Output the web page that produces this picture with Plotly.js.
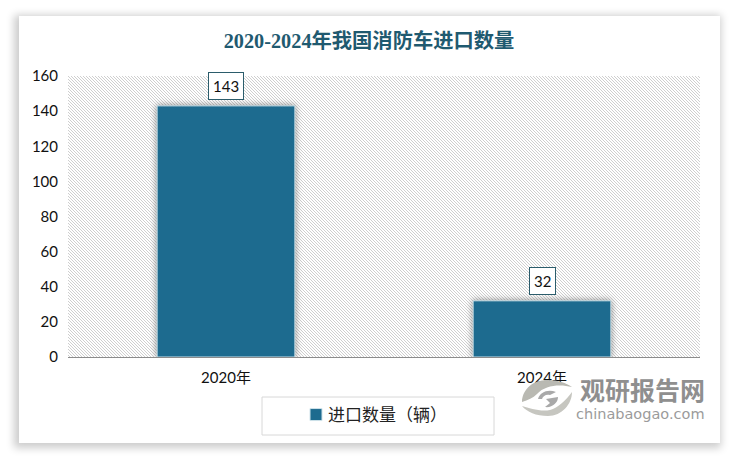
<!DOCTYPE html>
<html><head><meta charset="utf-8">
<script src="https://cdn.plot.ly/plotly-3.0.1.min.js"></script>
<style>
html,body{margin:0;padding:0;background:#fff;width:738px;height:458px;overflow:hidden}
#card{position:absolute;left:19px;top:16px;width:701px;height:427px;background:#fff;box-shadow:-2px 2px 8px 3px rgba(0,0,0,.2)}
#hatch{position:absolute;left:68px;top:76px;width:632px;height:281px;background-color:#fff;image-rendering:pixelated;
 background-image:url("data:image/svg+xml,%3Csvg xmlns='http://www.w3.org/2000/svg' width='3' height='3' shape-rendering='crispEdges'%3E%3Crect x='0' y='0' width='1' height='1' fill='%23cfcfcf'/%3E%3Crect x='1' y='1' width='1' height='1' fill='%23cfcfcf'/%3E%3Crect x='2' y='2' width='1' height='1' fill='%23cfcfcf'/%3E%3C/svg%3E");background-size:3px 3px}
#chart{position:absolute;left:0;top:0;width:738px;height:458px}
.barlayer .point path{filter:drop-shadow(0 0 3px rgba(60,60,60,.6))}
.legend .legendsymbols{transform:translateX(8px)}
</style></head><body>
<div id="card"></div><div id="hatch"></div><div id="chart"></div>
<script>
const categories=['2020年','2024年'];
const values=[143,32];
const seriesName='进口数量（辆）';
const chartTitle='2020-2024年我国消防车进口数量';
const yTicks=[0,20,40,60,80,100,120,140,160];
const cjk='"Noto Sans CJK SC"';
const font='Lato,'+cjk+',sans-serif';
const px=v=>(v-68)/632, py=v=>(357-v)/281;
const annotations=values.map((v,i)=>({x:categories[i],y:v,yref:'y',xref:'x',text:String(v),showarrow:false,yanchor:'bottom',yshift:6,
  font:{family:font,size:15,color:'#111'},bgcolor:'#fff',bordercolor:'#2b5c6b',borderwidth:1,borderpad:4}));
annotations.push(
 {xref:'paper',yref:'paper',x:px(642),y:py(389),xanchor:'center',yanchor:'middle',text:'<b>观研报告网</b>',showarrow:false,font:{family:cjk,size:25,color:'#8f8f8f'}},
 {xref:'paper',yref:'paper',x:px(640.5),y:py(414),xanchor:'center',yanchor:'middle',text:'chinabaogao.com',showarrow:false,font:{family:'"DejaVu Sans"',size:14.5,color:'#9b9b9b'}}
);
Plotly.newPlot('chart',[{type:'bar',x:categories,y:values,name:seriesName,width:0.436,
  marker:{color:'#1d6b8f',line:{color:'#cfe3ea',width:1}},cliponaxis:false,hoverinfo:'skip'}],{
  width:738,height:458,margin:{l:68,r:38,t:76,b:101,pad:0},
  paper_bgcolor:'rgba(0,0,0,0)',plot_bgcolor:'rgba(0,0,0,0)',
  title:{text:chartTitle,x:0.5,xref:'container',xanchor:'center',y:0.911,yanchor:'middle',
    font:{family:'"Liberation Serif",'+cjk+',serif',size:20.3,color:'#1f5a70',weight:'bold'}},
  xaxis:{type:'category',showgrid:false,showline:true,linecolor:'#8c8c8c',linewidth:1,ticks:'',ticklen:0,ticklabelstandoff:7,
    tickfont:{family:font,size:15,color:'#111'},automargin:false},
  yaxis:{range:[0,160],tickvals:yTicks,showgrid:false,zeroline:false,showline:false,ticks:'',ticklabelstandoff:9,
    tickfont:{family:font,size:15,color:'#111'},automargin:false},
  showlegend:true,
  legend:{x:px(370),y:py(415),xanchor:'center',yanchor:'middle',bgcolor:'rgba(0,0,0,0)',borderwidth:0,itemclick:false,
    font:{family:cjk,size:17,color:'#222'}},
  shapes:[
   {type:'rect',xref:'paper',yref:'paper',x0:px(262),x1:px(494),y0:py(397),y1:py(435),line:{color:'#d8d8d8',width:1},fillcolor:'rgba(0,0,0,0)'},
   // watermark logo
   {type:'path',xref:'paper',yref:'paper',fillcolor:'#b9b9b2',line:{width:0},
    path:`M ${px(522)} ${py(402)} C ${px(522)} ${py(392)} ${px(530)} ${py(380)} ${px(548)} ${py(380)} C ${px(558)} ${py(380)} ${px(566)} ${py(383)} ${px(572)} ${py(387)} C ${px(560)} ${py(384)} ${px(545)} ${py(385)} ${px(537)} ${py(394)} C ${px(533)} ${py(398)} ${px(528)} ${py(400)} ${px(522)} ${py(402)} Z`},
   {type:'path',xref:'paper',yref:'paper',fillcolor:'#c6c6c0',line:{width:0},
    path:`M ${px(522)} ${py(406)} C ${px(530)} ${py(408)} ${px(540)} ${py(412)} ${px(550)} ${py(410)} C ${px(558)} ${py(408)} ${px(566)} ${py(400)} ${px(572)} ${py(392)} C ${px(572)} ${py(404)} ${px(562)} ${py(416)} ${px(548)} ${py(416)} C ${px(536)} ${py(416)} ${px(527)} ${py(412)} ${px(522)} ${py(406)} Z`},
   {type:'path',xref:'paper',yref:'paper',fillcolor:'#a9a9a9',line:{width:0},
    path:`M ${px(538)} ${py(399)} C ${px(540)} ${py(392)} ${px(548)} ${py(389)} ${px(556)} ${py(392)} L ${px(550)} ${py(395)} C ${px(546)} ${py(394)} ${px(543)} ${py(396)} ${px(542)} ${py(399)} Z M ${px(546)} ${py(399)} L ${px(558)} ${py(397)} C ${px(558)} ${py(403)} ${px(552)} ${py(408)} ${px(545)} ${py(407)} L ${px(550)} ${py(403)} Z`}
  ],
  annotations:annotations
},{displayModeBar:false,staticPlot:true});
</script></body></html>
